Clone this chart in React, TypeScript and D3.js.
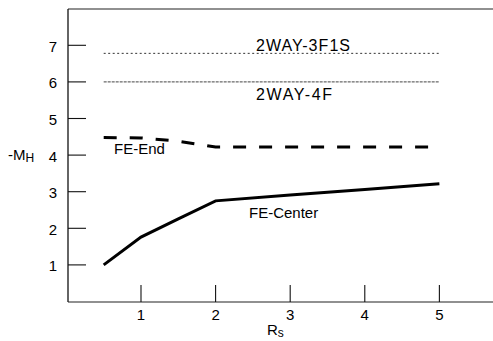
import React from "react";
import * as d3 from "d3";

const xTicks = [1, 2, 3, 4, 5];
const yTicks = [1, 2, 3, 4, 5, 6, 7];

const rsValues = [0.5, 1, 1.5, 2, 3, 4, 5];
const feCenter = [1.0, 1.76, 2.26, 2.75, 2.91, 3.06, 3.22];
const feEnd = [4.48, 4.47, 4.38, 4.22, 4.22, 4.22, 4.22];
const way3F1S = [6.78, 6.78, 6.78, 6.78, 6.78, 6.78, 6.78];
const way4F = [6.0, 6.0, 6.0, 6.0, 6.0, 6.0, 6.0];

const W = 493;
const H = 341;

export default function App() {
  const x = d3.scaleLinear().domain([0, 5.7]).range([66.4, 491.6]);
  const y = d3.scaleLinear().domain([0, 8]).range([301.5, 8.7]);
  const line = d3
    .line<number>()
    .x((_, i) => x(rsValues[i]))
    .y((d) => y(d));

  const x0 = 68;
  const yBot = 302;
  const font = "'Liberation Sans', Arial, sans-serif";

  return (
    <svg
      width={W}
      height={H}
      style={{ position: "absolute", left: 0, top: 0, background: "#fff" }}
      fontFamily={font}
    >
      {/* frame */}
      <line x1={x0} y1={9} x2={W} y2={9} stroke="#222" strokeWidth={1.2} />
      <line x1={x0} y1={9} x2={x0} y2={yBot} stroke="#111" strokeWidth={1.3} />
      <line x1={x0} y1={yBot} x2={W} y2={yBot} stroke="#222" strokeWidth={1.2} />

      {/* y ticks */}
      {yTicks.map((t) => (
        <g key={"y" + t}>
          <line x1={x0} x2={86} y1={y(t)} y2={y(t)} stroke="#111" strokeWidth={1.1} />
          <text x={57} y={y(t) + 6.5} fontSize={15} textAnchor="end" fill="#000">
            {t}
          </text>
        </g>
      ))}

      {/* x ticks */}
      {xTicks.map((t) => (
        <g key={"x" + t}>
          <line x1={x(t)} x2={x(t)} y1={285} y2={yBot} stroke="#111" strokeWidth={1.1} />
          <text x={x(t)} y={320} fontSize={15} textAnchor="middle" fill="#000">
            {t}
          </text>
        </g>
      ))}

      {/* axis titles */}
      <text x={8} y={160} fontSize={15} fill="#000">
        -M
        <tspan fontSize={12} dy={2}>H</tspan>
      </text>
      <text x={267} y={335} fontSize={15} fill="#000">
        R
        <tspan fontSize={12} dy={2}>s</tspan>
      </text>

      {/* series */}
      <path
        d={line(way3F1S) || ""}
        fill="none"
        stroke="#333"
        strokeWidth={1}
        strokeDasharray="2,2.5"
      />
      <path
        d={line(way4F) || ""}
        fill="none"
        stroke="#444"
        strokeWidth={1}
        strokeDasharray="3,1"
      />
      <path
        d={line(feEnd) || ""}
        fill="none"
        stroke="#000"
        strokeWidth={3}
        strokeDasharray="13,13"
      />
      <path d={line(feCenter) || ""} fill="none" stroke="#000" strokeWidth={3} />

      {/* series labels */}
      <text x={256} y={51} fontSize={16} fill="#000" textLength={94} lengthAdjust="spacing">
        2WAY-3F1S
      </text>
      <text x={256} y={100} fontSize={16} fill="#000" textLength={76} lengthAdjust="spacing">
        2WAY-4F
      </text>
      <text x={114} y={154} fontSize={15} fill="#000">
        FE-End
      </text>
      <text x={249} y={218} fontSize={15} fill="#000">
        FE-Center
      </text>
    </svg>
  );
}
